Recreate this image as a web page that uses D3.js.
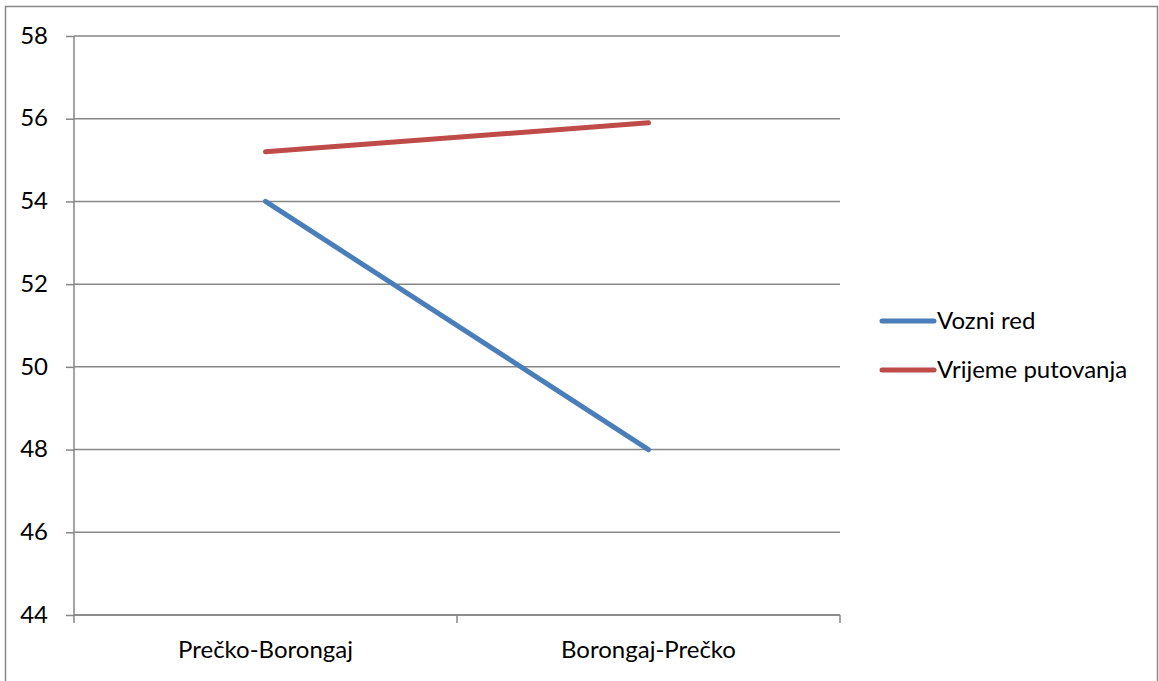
<!DOCTYPE html>
<html>
<head>
<meta charset="utf-8">
<script src="https://cdn.jsdelivr.net/npm/d3@7"></script>
<style>
  body { margin: 0; background: #fff; overflow: hidden; }
  text { font-family: Lato, "Open Sans", sans-serif; fill: #000; }
</style>
</head>
<body>
<div id="chart"></div>
<script>
const categories = ["Prečko-Borongaj", "Borongaj-Prečko"];
const vozniRed = [54, 48];
const vrijemePutovanja = [55.2, 55.9];
const seriesNames = ["Vozni red", "Vrijeme putovanja"];
const seriesColors = ["#4a7ebb", "#be4b48"];
const yTicks = [44, 46, 48, 50, 52, 54, 56, 58];

const width = 1159, height = 681;
const margin = {top: 36, left: 74, right: 319, bottom: 66};
const innerWidth = width - margin.left - margin.right,
      innerHeight = height - margin.top - margin.bottom;

const svg = d3.select("#chart").append("svg")
  .attr("width", width)
  .attr("height", height);

// outer frame
svg.append("rect")
  .attr("x", 5.5).attr("y", 6.5)
  .attr("width", 1152).attr("height", 700)
  .attr("fill", "none")
  .attr("stroke", "#868686")
  .attr("stroke-width", 1.5);

const g = svg.append("g")
  .attr("transform", `translate(${margin.left}, ${margin.top})`);

const x = d3.scaleBand()
  .domain(categories)
  .range([0, innerWidth]);

const y = d3.scaleLinear()
  .domain([44, 58])
  .range([innerHeight, 0]);

// y axis
const yAxis = g.append("g")
  .call(d3.axisLeft(y).tickValues(yTicks).tickSize(8).tickPadding(18).tickFormat(d3.format("d")));
yAxis.select(".domain").attr("stroke", "#868686").attr("stroke-width", 1.5)
  .attr("d", `M0,0V${innerHeight}`);
yAxis.selectAll(".tick line").attr("stroke", "#868686").attr("stroke-width", 1.5);
yAxis.selectAll(".tick text").style("font-size", "24px").attr("dy", "0.3em");

// gridlines
g.append("g")
  .selectAll("line")
  .data(yTicks)
  .enter().append("line")
  .attr("x1", 0).attr("x2", innerWidth)
  .attr("y1", d => y(d)).attr("y2", d => y(d))
  .attr("stroke", "#868686")
  .attr("stroke-width", 1.5);

// x axis
const xAxis = g.append("g")
  .attr("transform", `translate(0, ${innerHeight})`)
  .call(d3.axisBottom(x).tickSize(0).tickPadding(26));
xAxis.select(".domain").attr("stroke", "#868686").attr("stroke-width", 1.5)
  .attr("d", `M0,0H${innerWidth}`);
xAxis.selectAll(".tick text").style("font-size", "24px");

const bounds = [0, x.bandwidth(), innerWidth];
xAxis.selectAll(".xtick")
  .data(bounds)
  .enter().append("line")
  .attr("x1", d => d).attr("x2", d => d)
  .attr("y1", 0).attr("y2", 8)
  .attr("stroke", "#868686")
  .attr("stroke-width", 1.5);

// series
const series = [vozniRed, vrijemePutovanja];
const line = d3.line()
  .x((d, i) => x(categories[i]) + x.bandwidth() / 2)
  .y(d => y(d));

series.forEach((values, k) => {
  g.append("path")
    .datum(values)
    .attr("d", line)
    .attr("fill", "none")
    .attr("stroke", seriesColors[k])
    .attr("stroke-width", 5)
    .attr("stroke-linecap", "round");
});

// legend
const legend = svg.append("g")
  .attr("transform", "translate(882, 321)");
const items = legend.selectAll("g")
  .data(seriesNames)
  .enter().append("g")
  .attr("transform", (d, i) => `translate(0, ${i * 49})`);
items.append("line")
  .attr("x1", 0).attr("x2", 52)
  .attr("stroke", (d, i) => seriesColors[i])
  .attr("stroke-width", 5)
  .attr("stroke-linecap", "round");
items.append("text")
  .attr("x", 55)
  .attr("dy", "0.35em")
  .style("font-size", "24px")
  .text(d => d);
</script>
</body>
</html>
